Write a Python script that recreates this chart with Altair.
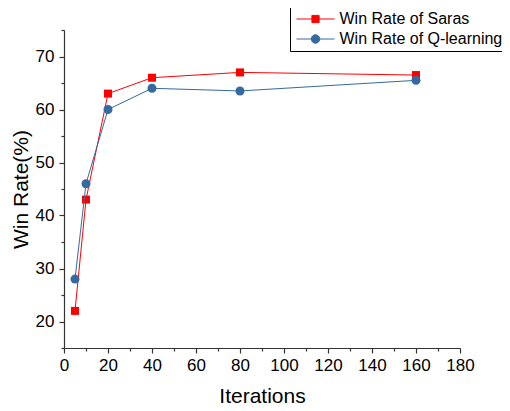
import altair as alt
import pandas as pd

iterations = [5, 10, 20, 40, 80, 160]
saras = [22, 43, 63, 66, 67, 66.5]
qlearn = [28, 46, 60, 64, 63.5, 65.5]
series_names = ["Win Rate of Saras", "Win Rate of Q-learning"]
colors = ["#ff0000", "#356aa0"]

df = pd.DataFrame({
    "it": iterations * 2,
    "rate": saras + qlearn,
    "series": [series_names[0]] * len(iterations) + [series_names[1]] * len(iterations),
})

FONT = "Liberation Sans"

xaxis = alt.Axis(
    values=list(range(0, 181, 10)),
    labelExpr="datum.value % 20 == 0 ? datum.label : ''",
    tickSize={"condition": {"test": "datum.value % 20 == 0", "value": 5}, "value": 3},
    grid=False, title="Iterations", labelFontSize=17, titleFontSize=21,
    labelPadding=4, titlePadding=12, labelFlush=False,
)
yaxis = alt.Axis(
    values=list(range(15, 76, 5)),
    labelExpr="datum.value % 10 == 0 ? datum.label : ''",
    tickSize={"condition": {"test": "datum.value % 10 == 0", "value": 5}, "value": 3},
    grid=False, title="Win Rate(%)", labelFontSize=17, titleFontSize=21,
    labelPadding=5, titlePadding=4, labelFlush=False,
)

x = alt.X("it:Q", scale=alt.Scale(domain=[0, 180], nice=False), axis=xaxis)
y = alt.Y("rate:Q", scale=alt.Scale(domain=[15, 75], nice=False), axis=yaxis)

base = alt.Chart(df)

layers = []
for name, col, shp, sz in zip(series_names, colors, ["square", "circle"], [64, 81]):
    sub = base.transform_filter(alt.datum.series == name)
    layers.append(sub.mark_line(color=col, strokeWidth=1).encode(x=x, y=y))
    layers.append(sub.mark_point(shape=shp, filled=True, size=sz, color=col, opacity=1).encode(x=x, y=y))

sq = "M-3.8,0H3.8M-0.72,-0.72H0.72V0.72H-0.72Z"
ci = "M-3.8,0H3.8M-0.85,0A0.85,0.85 0 1,0 0.85,0A0.85,0.85 0 1,0 -0.85,0Z"

legend = alt.Legend(
    title=None, orient="none", legendX=226, legendY=-23,
    labelFontSize=16, labelFont=FONT, labelColor="black", labelLimit=400,
    symbolSize=100, symbolStrokeWidth=1, symbolOpacity=1,
    symbolOffset=13.5, labelOffset=16, rowPadding=4,
    padding=4, strokeColor="black", fillColor="white", cornerRadius=0,
)

leg_layer = base.mark_point(filled=True, opacity=0, size=100).encode(
    x=x, y=y,
    color=alt.Color("series:N", scale=alt.Scale(domain=series_names, range=colors), legend=legend, sort=series_names),
    stroke=alt.Stroke("series:N", scale=alt.Scale(domain=series_names, range=colors), legend=legend, sort=series_names),
    shape=alt.Shape("series:N", scale=alt.Scale(domain=series_names, range=[sq, ci]), legend=legend, sort=series_names),
)
layers.append(leg_layer)

chart = alt.layer(*layers).properties(
    width=396, height=318,
    padding={"left": 56, "top": 22, "right": 42, "bottom": 60},
    autosize=alt.AutoSizeParams(type="none"),
).configure_view(stroke=None).configure_axis(
    labelFont=FONT, titleFont=FONT, labelColor="black", titleColor="black",
    domainColor="#333333", tickColor="#333333", titleFontWeight="normal",
    domainWidth=1.2, tickWidth=1.2,
)

chart.save("out.html", embed_options={"renderer": "svg", "actions": False})
